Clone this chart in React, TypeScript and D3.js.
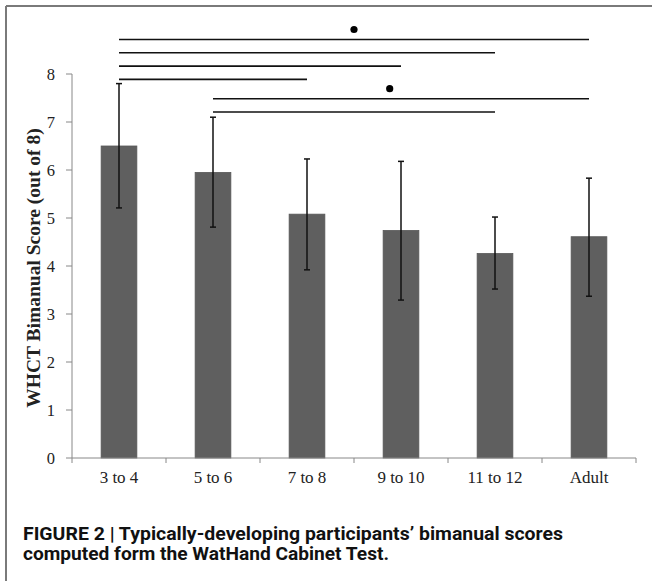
import * as d3 from "d3";
import React from "react";

const groups = ["3 to 4", "5 to 6", "7 to 8", "9 to 10", "11 to 12", "Adult"];
const means = [6.5, 5.95, 5.08, 4.74, 4.26, 4.61];
const errHigh = [7.8, 7.1, 6.23, 6.18, 5.02, 5.83];
const errLow = [5.21, 4.81, 3.92, 3.29, 3.52, 3.37];
const yTicks = [0, 1, 2, 3, 4, 5, 6, 7, 8];

// significance brackets, top to bottom
const comparisons: [string, string][] = [
  ["3 to 4", "Adult"],
  ["3 to 4", "11 to 12"],
  ["3 to 4", "9 to 10"],
  ["3 to 4", "7 to 8"],
  ["5 to 6", "Adult"],
  ["5 to 6", "11 to 12"],
];
const starredRows = [0, 4];

const yLabel = "WHCT Bimanual Score (out of 8)";
const captionLines = [
  "FIGURE 2 | Typically-developing participants\u2019 bimanual scores",
  "computed form the WatHand Cabinet Test.",
];

const W = 652;
const H = 581;
const margin = { left: 72, right: 16, top: 74, bottom: 123 };

const serif = "'Liberation Serif', 'Times New Roman', serif";
const sans = "Roboto, 'Liberation Sans', Arial, sans-serif";

const App: React.FC = () => {
  const x = d3
    .scaleBand()
    .domain(groups)
    .range([margin.left, 636])
    .paddingInner(0.62)
    .paddingOuter(0.31);
  const y = d3.scaleLinear().domain([0, 8]).range([H - margin.bottom, margin.top]);
  const y0 = y(0);
  const cx = (g: string) => (x(g) ?? 0) + x.bandwidth() / 2;
  const step = x.step();
  const bounds = d3.range(groups.length + 1).map((i) => margin.left + i * step);

  // bracket rows: 4 in first group, 2 in second
  const rowY = comparisons.map((_, i) => 39.5 + i * 13.3 + (i >= 4 ? 6 : 0));

  return (
    <svg
      width={W}
      height={H}
      style={{ position: "absolute", left: 0, top: 0, background: "#fff" }}
    >
      {/* frame */}
      <line x1={6} y1={6} x2={W} y2={6} stroke="#7a7a7a" strokeWidth={2} />
      <line x1={6} y1={6} x2={6} y2={H} stroke="#7a7a7a" strokeWidth={2} />

      {/* bars */}
      {groups.map((g, i) => (
        <rect
          key={g}
          x={x(g)}
          y={y(means[i])}
          width={x.bandwidth()}
          height={y0 - y(means[i])}
          fill="#5f5f5f"
          stroke="#585858"
          strokeWidth={0.8}
        />
      ))}

      {/* error bars */}
      {groups.map((g, i) => {
        const c = cx(g);
        return (
          <g key={g} stroke="#111" strokeWidth={1.5}>
            <line x1={c} x2={c} y1={y(errHigh[i])} y2={y(errLow[i])} />
            <line x1={c - 3} x2={c + 3} y1={y(errHigh[i])} y2={y(errHigh[i])} />
            <line x1={c - 3} x2={c + 3} y1={y(errLow[i])} y2={y(errLow[i])} />
          </g>
        );
      })}

      {/* y axis */}
      <line x1={margin.left} x2={margin.left} y1={y(8)} y2={y0} stroke="#888" strokeWidth={1} />
      {yTicks.map((t) => (
        <g key={t}>
          <line x1={margin.left - 6} x2={margin.left} y1={y(t)} y2={y(t)} stroke="#888" strokeWidth={1} />
          <text
            x={55}
            y={y(t)}
            dy="0.34em"
            textAnchor="end"
            fontFamily={serif}
            fontSize={16.5}
            fill="#222"
          >
            {t}
          </text>
        </g>
      ))}

      {/* x axis */}
      <line x1={margin.left} x2={bounds[bounds.length - 1]} y1={y0} y2={y0} stroke="#888" strokeWidth={1} />
      {bounds.map((b, i) => (
        <line key={i} x1={b} x2={b} y1={y0} y2={y0 + 5} stroke="#888" strokeWidth={1} />
      ))}
      {groups.map((g) => (
        <text
          key={g}
          x={cx(g)}
          y={483}
          textAnchor="middle"
          fontFamily={serif}
          fontSize={17}
          fill="#222"
        >
          {g}
        </text>
      ))}

      {/* y label */}
      <text
        transform={`translate(40, ${(y(8) + y0) / 2 + 2}) rotate(-90)`}
        textAnchor="middle"
        fontFamily={serif}
        fontWeight="bold"
        fontSize={19.5}
        fill="#222"
      >
        {yLabel}
      </text>

      {/* significance brackets */}
      {comparisons.map(([a, b], i) => (
        <line
          key={i}
          x1={cx(a)}
          x2={cx(b)}
          y1={rowY[i]}
          y2={rowY[i]}
          stroke="#111"
          strokeWidth={1.6}
        />
      ))}
      {starredRows.map((r, k) => {
        const [a, b] = comparisons[r];
        const f = k === 0 ? 0.5 : 0.47;
        return (
          <circle
            key={r}
            cx={cx(a) + (cx(b) - cx(a)) * f}
            cy={rowY[r] - 10}
            r={3.6}
            fill="#000"
          />
        );
      })}

      {/* caption */}
      {captionLines.map((line, i) => (
        <text
          key={i}
          x={23}
          y={540 + i * 19.5}
          fontFamily={sans}
          fontWeight="bold"
          fontSize={18}
          fill="#111"
          textLength={i === 0 ? 540 : 366}
          lengthAdjust="spacingAndGlyphs"
        >
          {line}
        </text>
      ))}
    </svg>
  );
};

export default App;
